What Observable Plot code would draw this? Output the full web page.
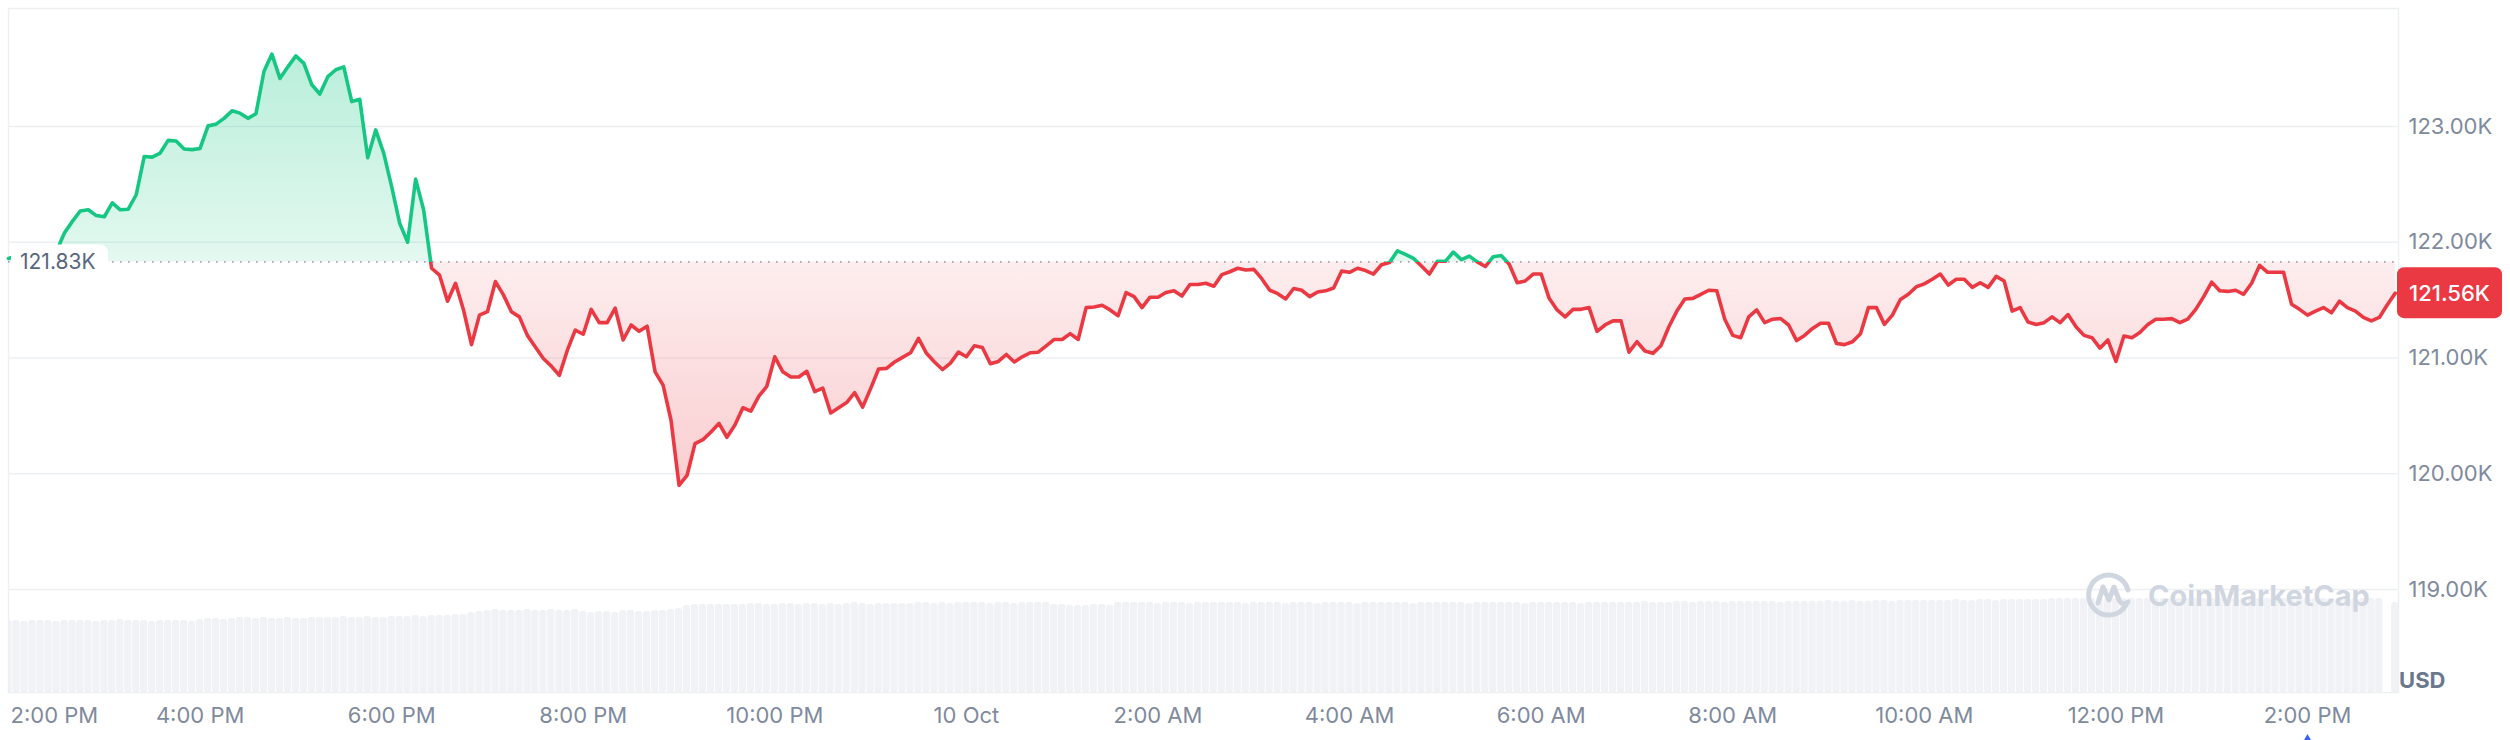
<!DOCTYPE html>
<html>
<head>
<meta charset="utf-8">
<script src="https://cdn.jsdelivr.net/npm/d3@7"></script>
<script src="https://cdn.jsdelivr.net/npm/@observablehq/plot@0.6"></script>
<style>
html, body { margin: 0; padding: 0; background: #ffffff; }
#chart { position: relative; width: 2510px; height: 740px; font-family: Inter, "Noto Sans", sans-serif; overflow: hidden; }
#chart svg { position: absolute; left: 0; top: 0; }
</style>
</head>
<body>
<div id="chart"></div>
<script>
// ---------- data ----------
const startTime = "2025-10-09T14:00:00";
const stepMinutes = 5;

const prices = [
  121860,121880,121850,121870,121890,121880,121920,
  122080,122180,122270,
  122280,122230,122220,122340,122280,122285,122410,122740,122735,122770,
  122880,122875,122805,122800,122810,123005,123020,123070,123135,123115,
  123070,123110,123475,123625,123415,123515,123610,123545,123360,123280,
  123430,123490,123515,123215,123235,122730,122970,122770,122480,122165,
  122000,122545,122280,121775,121715,121490,121645,121415,121115,121370,
  121400,121660,121545,121400,121355,121195,121095,120995,120930,120850,
  121065,121240,121205,121420,121305,121305,121430,121155,121285,121230,
  121275,120880,120765,120460,119900,119985,120260,120295,120360,120435,
  120315,120420,120570,120540,120670,120755,121010,120880,120835,120835,
  120885,120710,120740,120525,120570,120615,120700,120575,120735,120905,
  120910,120965,121005,121045,121170,121040,120965,120900,120955,121050,
  121010,121105,121090,120950,120970,121030,120965,121010,121045,121050,
  121105,121160,121160,121210,121160,121435,121440,121455,121415,121365,
  121565,121530,121435,121525,121525,121565,121580,121535,121635,121635,
  121645,121620,121720,121745,121775,121760,121765,121685,121585,121555,
  121510,121600,121585,121530,121570,121580,121605,121750,121740,121775,
  121755,121725,121805,121825,121925,121895,121860,121795,121725,121835,
  121835,121915,121850,121880,121830,121790,121875,121885,121810,121650,
  121665,121725,121725,121515,121415,121355,121420,121420,121435,121230,
  121285,121320,121320,121050,121140,121060,121040,121105,121270,121405,
  121510,121515,121550,121585,121580,121335,121195,121175,121355,121415,
  121305,121335,121340,121285,121150,121195,121255,121300,121300,121125,
  121115,121140,121210,121435,121435,121290,121370,121505,121550,121615,
  121640,121680,121725,121630,121680,121680,121610,121650,121610,121705,
  121665,121405,121435,121310,121290,121305,121355,121305,121375,121270,
  121195,121175,121085,121155,120970,121190,121175,121220,121290,121335,
  121335,121340,121305,121335,121420,121530,121655,121580,121575,121585,
  121550,121645,121800,121740,121740,121740,121465,121420,121370,121405,
  121435,121390,121490,121435,121405,121350,121320,121350,121460,121560
];

const volumes = [
  72,72,71,72,72,72,71,72,72,72,
  72,71,72,72,73,72,72,72,71,72,
  72,72,72,71,73,74,74,73,74,75,
  75,74,75,74,74,75,74,74,75,75,
  75,75,76,75,75,76,75,75,76,76,
  76,77,76,77,77,77,78,78,80,81,
  82,83,82,82,82,83,82,82,83,82,
  82,83,81,80,81,81,80,82,82,81,
  81,82,82,83,84,87,88,88,88,88,
  88,88,88,89,89,88,88,89,89,88,
  89,89,88,89,88,89,90,89,88,89,
  89,89,89,89,90,90,89,90,89,90,
  90,90,90,89,90,90,89,90,90,90,
  90,88,88,87,87,87,88,88,87,90,
  90,90,90,90,89,90,90,90,89,90,
  90,90,90,90,90,89,90,90,90,90,
  89,90,90,90,89,90,90,90,90,89,
  90,90,90,90,90,90,89,90,90,90,
  90,90,90,89,90,90,90,90,90,90,
  89,90,90,90,90,90,90,89,90,90,
  90,90,90,90,90,91,90,90,90,91,
  91,90,91,91,91,90,91,91,91,91,
  91,91,90,91,91,91,91,91,92,91,
  91,92,91,91,92,92,91,92,92,92,
  92,92,92,92,93,92,92,93,93,92,
  93,93,93,93,93,93,94,94,94,94,
  94,94,94,94,94,94,94,94,94,94,
  94,94,94,94,94,94,94,94,94,94,
  94,94,94,94,94,94,94,94,94,94,
  94,94,94,94,94,94,94,94,0,90
];

const baselinePrice = 121830;
const baselineLabel = "121.83K";
const lastPriceLabel = "121.56K";

const yTicks = [119000, 120000, 121000, 122000, 123000];
const yTickLabels = ["119.00K", "120.00K", "121.00K", "122.00K", "123.00K"];

const xTickTimes = [
  "2025-10-09T14:00:00","2025-10-09T16:00:00","2025-10-09T18:00:00","2025-10-09T20:00:00",
  "2025-10-09T22:00:00","2025-10-10T00:00:00","2025-10-10T02:00:00","2025-10-10T04:00:00",
  "2025-10-10T06:00:00","2025-10-10T08:00:00","2025-10-10T10:00:00","2025-10-10T12:00:00",
  "2025-10-10T14:00:00"
];
const xTickLabels = ["2:00 PM","4:00 PM","6:00 PM","8:00 PM","10:00 PM","10 Oct","2:00 AM","4:00 AM","6:00 AM","8:00 AM","10:00 AM","12:00 PM","2:00 PM"];
const cursorTime = "2025-10-10T14:00:00";

const xDomain = ["2025-10-09T14:00:00", "2025-10-10T14:57:00"];
const yDomain = [118110, 124019];
const currencyLabel = "USD";
const watermarkText = "CoinMarketCap";

// ---------- derived tables ----------
const t0 = new Date(startTime);
const stepMs = stepMinutes * 60000;
const series = prices.map((p, i) => ({time: new Date(+t0 + i * stepMs), price: p}));
const volData = volumes.map((v, i) => ({
  t1: new Date(+t0 + (i - 0.5) * stepMs),
  t2: new Date(+t0 + (i + 0.5) * stepMs),
  volume: v
}));
const xTicks = xTickTimes.map((t, i) => ({t: new Date(t), label: xTickLabels[i]}));
const yTickRows = yTicks.map((v, i) => ({v, label: yTickLabels[i]}));

const W = 2510, H = 740;
const M = {top: 8, right: 112, bottom: 48, left: 8};
const GREEN = "#16c784", RED = "#ea3943";
const FONT = "Inter, 'Noto Sans', sans-serif";

// ---------- render-function marks ----------
function gradients(index, scales, values, dims) {
  const yb = scales.y(baselinePrice);
  const yTop = scales.y(d3.max(prices));
  const yBot = scales.y(d3.min(prices));
  const defs = d3.create("svg:defs");
  const lg = defs.append("linearGradient").attr("id", "cmcLine")
    .attr("gradientUnits", "userSpaceOnUse")
    .attr("x1", 0).attr("x2", 0).attr("y1", 0).attr("y2", dims.height);
  const o = yb / dims.height;
  lg.append("stop").attr("offset", o).attr("stop-color", GREEN);
  lg.append("stop").attr("offset", o).attr("stop-color", RED);
  const fg = defs.append("linearGradient").attr("id", "cmcFill")
    .attr("gradientUnits", "userSpaceOnUse")
    .attr("x1", 0).attr("x2", 0).attr("y1", yTop).attr("y2", yBot);
  const of = (yb - yTop) / (yBot - yTop);
  fg.append("stop").attr("offset", 0).attr("stop-color", GREEN).attr("stop-opacity", 0.3);
  fg.append("stop").attr("offset", of).attr("stop-color", GREEN).attr("stop-opacity", 0.12);
  fg.append("stop").attr("offset", of).attr("stop-color", RED).attr("stop-opacity", 0.09);
  fg.append("stop").attr("offset", 1).attr("stop-color", RED).attr("stop-opacity", 0.25);
  return defs.node();
}

function watermark(index, scales, values, dims) {
  const g = d3.create("svg:g");
  const xr = dims.width - dims.marginRight;
  const yb = dims.height - dims.marginBottom;
  const cx = xr - 289, cy = yb - 98;
  const logo = g.append("g").attr("transform", `translate(${cx},${cy})`)
    .attr("fill", "none").attr("stroke", "#d0d6e0").attr("stroke-width", 5)
    .attr("stroke-linecap", "round").attr("stroke-linejoin", "round");
  logo.append("path").attr("d", "M 17 11 A 20 20 0 1 1 19 -4");
  logo.append("path").attr("d", "M -11 9 L -6 -7 L 0 6 L 5 -7 L 10 6 Q 13 12 19 8");
  g.append("text").attr("x", xr - 250).attr("y", yb - 86)
    .attr("text-anchor", "start")
    .attr("font-family", FONT).attr("font-size", 29).attr("font-weight", 700)
    .attr("fill", "#d0d6e0").text(watermarkText);
  return g.node();
}

function labels(index, scales, values, dims) {
  const g = d3.create("svg:g").attr("font-family", FONT);
  const xl = dims.marginLeft;
  const yb = scales.y(baselinePrice);
  g.append("rect").attr("x", xl + 3).attr("y", yb - 17).attr("width", 97).attr("height", 34)
    .attr("rx", 8).attr("fill", "#ffffff");
  g.append("text").attr("x", xl + 12).attr("y", yb).attr("dy", "0.36em")
    .attr("text-anchor", "start")
    .attr("font-size", 21).attr("fill", "#58667e").text(baselineLabel);
  const xr = dims.width - dims.marginRight;
  const yl = scales.y(prices[prices.length - 1]);
  g.append("rect").attr("x", xr - 1).attr("y", yl - 25.5).attr("width", 105).attr("height", 51)
    .attr("rx", 7).attr("fill", RED);
  g.append("text").attr("x", xr + 51.5).attr("y", yl).attr("dy", "0.36em")
    .attr("text-anchor", "middle").attr("font-size", 22).attr("font-weight", 500)
    .attr("fill", "#ffffff").text(lastPriceLabel);
  return g.node();
}

// ---------- volume layer ----------
const volPlot = Plot.plot({
  width: W, height: H,
  marginTop: 592, marginBottom: M.bottom, marginLeft: M.left, marginRight: M.right,
  style: {background: "transparent"},
  x: {type: "time", domain: xDomain.map(d => new Date(d)), axis: null},
  y: {domain: [0, 100], axis: null},
  marks: [
    Plot.rectY(volData, {x1: "t1", x2: "t2", y: "volume", fill: "#f0f2f6",
      insetLeft: 0.35, insetRight: 0.35, rx: 2.5, clip: true})
  ]
});

// ---------- price layer ----------
const pricePlot = Plot.plot({
  width: W, height: H,
  marginTop: M.top, marginBottom: M.bottom, marginLeft: M.left, marginRight: M.right,
  style: {background: "transparent", fontFamily: FONT},
  x: {type: "time", domain: xDomain.map(d => new Date(d)), axis: null},
  y: {domain: yDomain, axis: null},
  marks: [
    gradients,
    Plot.ruleY(yTicks, {stroke: "#edf0f3", strokeWidth: 1.5}),
    Plot.frame({stroke: "#edf0f3", strokeWidth: 1.5}),
    watermark,
    Plot.areaY(series, {x: "time", y1: baselinePrice, y2: "price", fill: "url(#cmcFill)"}),
    Plot.ruleY([baselinePrice], {stroke: "#9ea6b3", strokeWidth: 1.6, strokeDasharray: "1.6 6.4"}),
    Plot.line(series, {x: "time", y: "price", stroke: "url(#cmcLine)", strokeWidth: 3.6,
      strokeLinejoin: "round", strokeLinecap: "round"}),
    Plot.text(yTickRows, {y: "v", text: "label", frameAnchor: "right", textAnchor: "start",
      dx: 10, fontSize: 22, fill: "#808a9d"}),
    Plot.text(xTicks.slice(1), {x: "t", text: "label", frameAnchor: "bottom", dy: 30,
      fontSize: 22, fill: "#808a9d"}),
    Plot.text(xTicks.slice(0, 1), {x: "t", text: "label", frameAnchor: "bottom", dy: 30,
      dx: 2, textAnchor: "start", fontSize: 22, fill: "#808a9d"}),
    Plot.text([currencyLabel], {frameAnchor: "bottom-right", dx: 47, dy: -5,
      fontSize: 22, fontWeight: 700, fill: "#6b778c"}),
    Plot.dot([new Date(cursorTime)], {x: d => d, frameAnchor: "bottom", dy: 47,
      symbol: "triangle", r: 3.5, fill: "#3861fb", stroke: "none"}),
    labels
  ]
});

const chart = document.getElementById("chart");
chart.appendChild(volPlot);
chart.appendChild(pricePlot);
</script>
</body>
</html>
